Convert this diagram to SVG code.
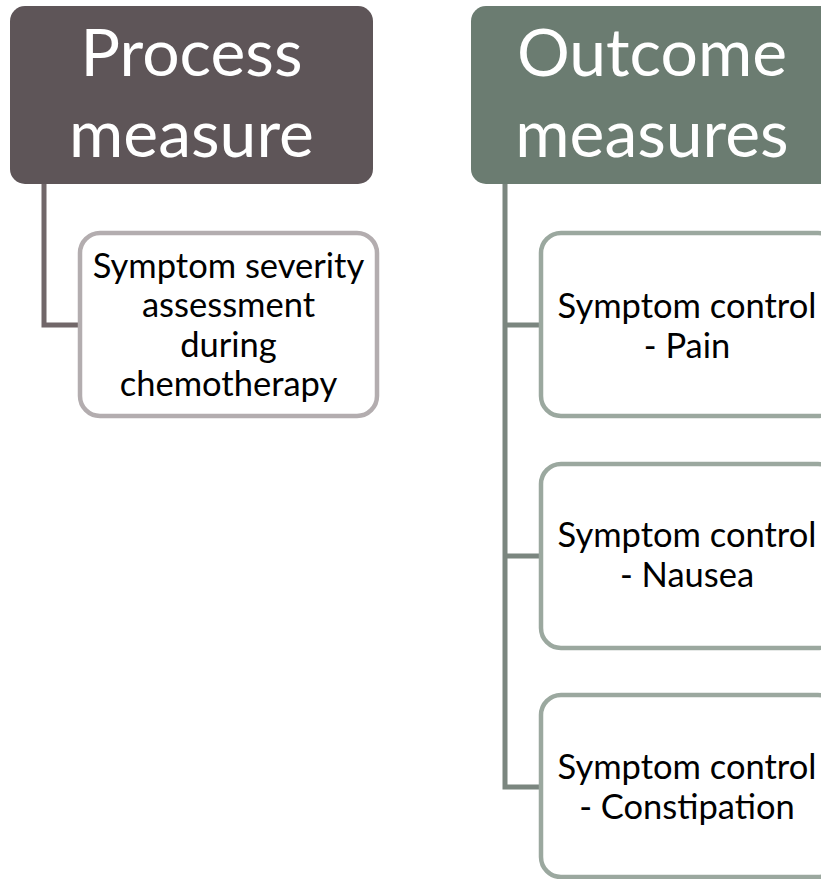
<svg xmlns="http://www.w3.org/2000/svg" width="821" height="879" viewBox="0 0 821 879">
<style>
.hdr{font-family:Lato,"Open Sans","Liberation Sans",sans-serif;font-size:66px;fill:#ffffff;text-anchor:middle}
.lbl{font-family:Lato,"Open Sans","Liberation Sans",sans-serif;font-size:34.5px;fill:#000000;text-anchor:middle}
.c1{fill:none;stroke:#716769;stroke-width:5}
.c2{fill:none;stroke:#7b867f;stroke-width:5}
.b1{fill:#ffffff;stroke:#b3adaf;stroke-width:4.5}
.b2{fill:#ffffff;stroke:#9ba89f;stroke-width:4.5}
</style>
<rect width="821" height="879" fill="#ffffff"/>
<g id="connectors">
<path class="c1" d="M44,184 V325 H80"/>
<path class="c2" d="M505,184 V787 H541 M505,325 H541 M505,556 H541"/>
</g>
<g id="process">
<rect x="10" y="6" width="363" height="178" rx="15" fill="#5e5558"/>
<text class="hdr" x="191.5" y="76">Process</text>
<text class="hdr" x="191.5" y="157">measure</text>
</g>
<g id="outcome">
<rect x="471" y="6" width="363" height="178" rx="15" fill="#6b7c71"/>
<text class="hdr" x="652" y="76">Outcome</text>
<text class="hdr" x="652" y="157">measures</text>
</g>
<g id="severity">
<rect x="80" y="233" width="297" height="183" rx="20" class="b1"/>
<text class="lbl" x="228.5" y="278">Symptom severity</text>
<text class="lbl" x="228.5" y="317">assessment</text>
<text class="lbl" x="228.5" y="357">during</text>
<text class="lbl" x="228.5" y="396">chemotherapy</text>
</g>
<g id="pain">
<rect x="541" y="233" width="297" height="183" rx="20" class="b2"/>
<text class="lbl" x="687" y="318">Symptom control</text>
<text class="lbl" x="687" y="358">- Pain</text>
</g>
<g id="nausea">
<rect x="541" y="464" width="297" height="184" rx="20" class="b2"/>
<text class="lbl" x="687" y="547">Symptom control</text>
<text class="lbl" x="687" y="587">- Nausea</text>
</g>
<g id="constipation">
<rect x="541" y="695" width="297" height="182" rx="20" class="b2"/>
<text class="lbl" x="687" y="779">Symptom control</text>
<text class="lbl" x="687" y="819">- Constipation</text>
</g>
</svg>
